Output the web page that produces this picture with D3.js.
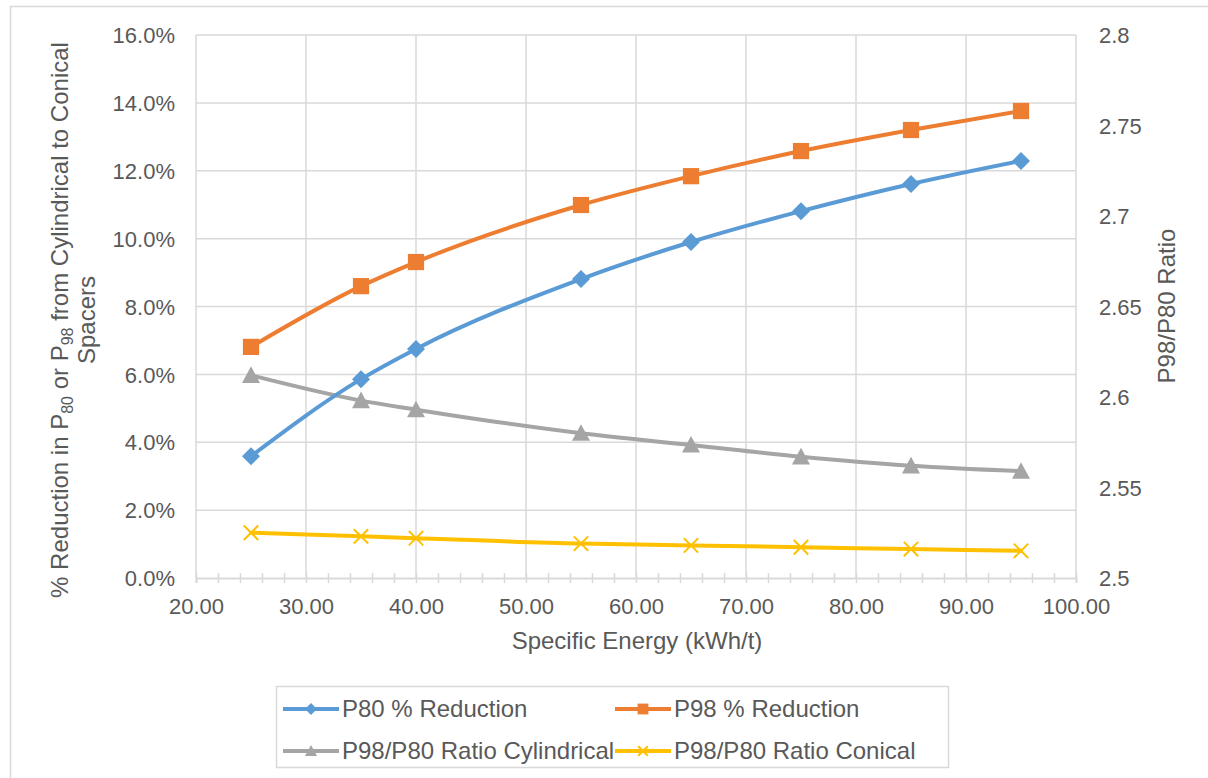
<!DOCTYPE html>
<html>
<head>
<meta charset="utf-8">
<script src="https://cdn.jsdelivr.net/npm/d3@7"></script>
<style>
  html, body { margin: 0; padding: 0; background: #fff; }
  svg { display: block; font-family: "Liberation Sans", Arial, sans-serif; }
</style>
</head>
<body>
<svg id="chart" width="1208" height="778"></svg>
<script>
// Specific energy (kWh/t) at each test point
const energy = [25, 35, 40, 55, 65, 75, 85, 95];
// % reduction going from cylindrical to conical spacers
const p80Reduction = [3.59, 5.86, 6.75, 8.81, 9.90, 10.81, 11.61, 12.29];
const p98Reduction = [6.81, 8.60, 9.31, 10.99, 11.84, 12.58, 13.20, 13.76];
// P98/P80 ratio (secondary axis)
const ratioCylindrical = [2.612, 2.598, 2.593, 2.580, 2.5735, 2.567, 2.562, 2.559];
const ratioConical = [2.525, 2.523, 2.522, 2.519, 2.518, 2.517, 2.516, 2.515];

const xTicks = [20, 30, 40, 50, 60, 70, 80, 90, 100];
const yLeftTicks = [0, 2, 4, 6, 8, 10, 12, 14, 16];
const yRightTicks = [2.5, 2.55, 2.6, 2.65, 2.7, 2.75, 2.8];

const seriesNames = ["P80 % Reduction", "P98 % Reduction", "P98/P80 Ratio Cylindrical", "P98/P80 Ratio Conical"];
const colors = ["#5b9bd5", "#ed7d31", "#a5a5a5", "#ffc000"];

const svg = d3.select("#chart");
const textColor = "#595959";
const gridColor = "#d9d9d9";
const font = "Liberation Sans, Arial, sans-serif";

// chart frame
svg.append("rect").attr("x", 10.5).attr("y", 6.5).attr("width", 1220).attr("height", 800)
  .attr("fill", "#fff").attr("stroke", gridColor).attr("stroke-width", 1.5);

const plot = { left: 196, right: 1076, top: 35, bottom: 578 };
const x = d3.scaleLinear().domain([20, 100]).range([plot.left, plot.right]);
const yL = d3.scaleLinear().domain([0, 16]).range([plot.bottom, plot.top]);
const yR = d3.scaleLinear().domain([2.5, 2.8]).range([plot.bottom, plot.top]);

// gridlines
const grid = svg.append("g");
grid.selectAll(".hg").data(yLeftTicks.slice(1)).join("line")
  .attr("x1", plot.left).attr("x2", plot.right)
  .attr("y1", d => yL(d)).attr("y2", d => yL(d))
  .attr("stroke", gridColor).attr("stroke-width", 1.5);
grid.selectAll(".vg").data(xTicks).join("line")
  .attr("x1", d => x(d)).attr("x2", d => x(d))
  .attr("y1", plot.top).attr("y2", plot.bottom)
  .attr("stroke", gridColor).attr("stroke-width", 1.5);

// x axis with minor ticks every 2 units
const xAxis = d3.axisBottom(x).tickValues(d3.range(20, 100.1, 2)).tickSize(5).tickFormat("");
const xg = svg.append("g").attr("transform", `translate(0,${plot.bottom})`).call(xAxis);
xg.select(".domain").attr("stroke", gridColor).attr("stroke-width", 2);
xg.selectAll(".tick line").attr("stroke", gridColor).attr("stroke-width", 1.5).attr("y1", -5).attr("y2", 5);

const xLab = d3.axisBottom(x).tickValues(xTicks).tickSize(0).tickPadding(0).tickFormat(d3.format(".2f"));
const xl = svg.append("g").attr("transform", `translate(0,${plot.bottom + 36})`).call(xLab);
xl.select(".domain").remove();
xl.selectAll("text").attr("font-size", 22).attr("fill", textColor).attr("dy", 0).attr("font-family", font);

// left axis labels
const yLAxis = d3.axisLeft(yL).tickValues(yLeftTicks).tickSize(0).tickPadding(0).tickFormat(d => d3.format(".1f")(d) + "%");
const ylg = svg.append("g").attr("transform", `translate(${plot.left - 21},0)`).call(yLAxis);
ylg.select(".domain").remove();
ylg.selectAll("text").attr("font-size", 22).attr("fill", textColor).attr("dy", "0.35em").attr("font-family", font);

// right axis labels
const yRAxis = d3.axisRight(yR).tickValues(yRightTicks).tickSize(0).tickPadding(0).tickFormat(d => String(d));
const yrg = svg.append("g").attr("transform", `translate(${plot.right + 23},0)`).call(yRAxis);
yrg.select(".domain").remove();
yrg.selectAll("text").attr("font-size", 22).attr("fill", textColor).attr("dy", "0.35em").attr("font-family", font);

// axis titles
svg.append("text").attr("x", (plot.left + plot.right) / 2 + 1).attr("y", 649)
  .attr("text-anchor", "middle").attr("font-size", 24).attr("fill", textColor)
  .text("Specific Energy (kWh/t)");

const lt = svg.append("text").attr("transform", "translate(68,320) rotate(-90)")
  .attr("text-anchor", "middle").attr("font-size", 24).attr("fill", textColor);
lt.append("tspan").text("% Reduction in P");
lt.append("tspan").attr("font-size", 16).attr("dy", 5).text("80");
lt.append("tspan").attr("dy", -5).text(" or P");
lt.append("tspan").attr("font-size", 16).attr("dy", 5).text("98");
lt.append("tspan").attr("dy", -5).text(" from Cylindrical to Conical");
svg.append("text").attr("transform", "translate(95,320) rotate(-90)")
  .attr("text-anchor", "middle").attr("font-size", 24).attr("fill", textColor)
  .text("Spacers");

svg.append("text").attr("transform", "translate(1175,306) rotate(-90)")
  .attr("text-anchor", "middle").attr("font-size", 24).attr("fill", textColor)
  .text("P98/P80 Ratio");

// series
const series = [
  { vals: p80Reduction, y: yL, marker: "diamond" },
  { vals: p98Reduction, y: yL, marker: "square" },
  { vals: ratioCylindrical, y: yR, marker: "triangle" },
  { vals: ratioConical, y: yR, marker: "x" }
];

const curve = d3.curveMonotoneX;

function drawMarker(g, type, cx, cy, color, r) {
  if (type === "diamond") {
    g.append("path").attr("d", `M${cx},${cy - r}L${cx + r},${cy}L${cx},${cy + r}L${cx - r},${cy}Z`).attr("fill", color);
  } else if (type === "square") {
    const h = r * 0.9;
    g.append("rect").attr("x", cx - h).attr("y", cy - h).attr("width", 2 * h).attr("height", 2 * h).attr("fill", color);
  } else if (type === "triangle") {
    g.append("path").attr("d", `M${cx},${cy - r}L${cx + r},${cy + r * 0.85}L${cx - r},${cy + r * 0.85}Z`).attr("fill", color);
  } else {
    const h = r * 0.8;
    g.append("path").attr("d", `M${cx - h},${cy - h}L${cx + h},${cy + h}M${cx - h},${cy + h}L${cx + h},${cy - h}`)
      .attr("stroke", color).attr("stroke-width", 2).attr("fill", "none");
  }
}

// draw ratio series first, then reductions on top
[3, 2, 0, 1].forEach(i => {
  const s = series[i];
  const line = d3.line().x((d, j) => x(energy[j])).y(d => s.y(d)).curve(curve);
  const g = svg.append("g");
  g.append("path").datum(s.vals).attr("d", line).attr("fill", "none")
    .attr("stroke", colors[i]).attr("stroke-width", 4).attr("stroke-linecap", "round");
  s.vals.forEach((v, j) => drawMarker(g, s.marker, x(energy[j]), s.y(v), colors[i], 9));
});

// legend
const lg = svg.append("g");
lg.append("rect").attr("x", 276.5).attr("y", 686.5).attr("width", 672).attr("height", 81)
  .attr("fill", "#fff").attr("stroke", gridColor).attr("stroke-width", 1.5);
const legendPos = [[283, 709], [615, 709], [283, 751], [615, 751]];
seriesNames.forEach((name, i) => {
  const [lx, ly] = legendPos[i];
  lg.append("line").attr("x1", lx).attr("x2", lx + 56).attr("y1", ly).attr("y2", ly)
    .attr("stroke", colors[i]).attr("stroke-width", 4);
  drawMarker(lg, series[i].marker, lx + 28, ly, colors[i], 6);
  lg.append("text").attr("x", lx + 59).attr("y", ly).attr("dy", "0.35em")
    .attr("font-size", 24).attr("fill", textColor).attr("font-family", font).text(name);
});
</script>
</body>
</html>
